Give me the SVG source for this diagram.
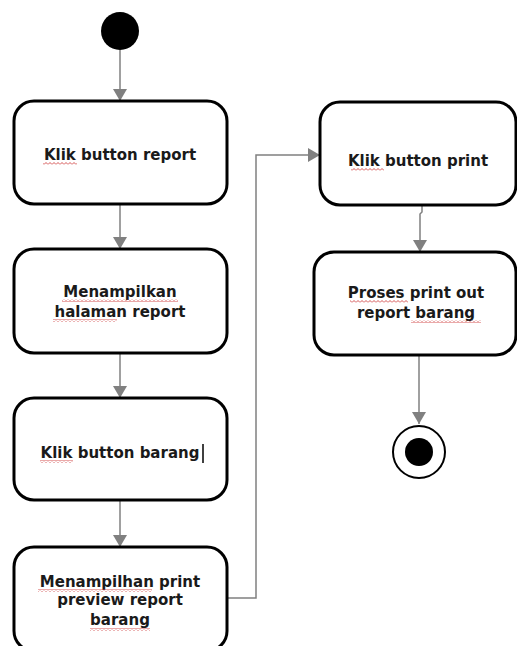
<svg xmlns="http://www.w3.org/2000/svg" width="517" height="646" viewBox="0 0 517 646">
<style>
.box{fill:#fff;stroke:#000;stroke-width:3}
.lbl{font-family:"DejaVu Sans","Verdana",sans-serif;font-weight:bold;font-size:15px;fill:#1a1a1a;text-anchor:middle}
.con{fill:none;stroke:#808080;stroke-width:1.5}
.sq{fill:url(#squig)}
</style>
<defs>
<marker id="arr" viewBox="0 0 12 14" refX="12" refY="7" markerWidth="12" markerHeight="14" markerUnits="userSpaceOnUse" orient="auto">
<path d="M0,0 L12,7 L0,14 Z" fill="#808080"/>
</marker>
<pattern id="squig" width="4" height="3" patternUnits="userSpaceOnUse">
<path d="M0,2.5 L2,0.5 L4,2.5" fill="none" stroke="#d04040" stroke-width="0.9"/>
</pattern>
</defs>
<rect width="517" height="646" fill="#fff"/>
<g id="connectors">
<line class="con" x1="120" y1="50" x2="120" y2="101" marker-end="url(#arr)"/>
<line class="con" x1="120" y1="205" x2="120" y2="249" marker-end="url(#arr)"/>
<line class="con" x1="120" y1="353" x2="120" y2="398" marker-end="url(#arr)"/>
<line class="con" x1="120" y1="501" x2="120" y2="547" marker-end="url(#arr)"/>
<polyline class="con" points="228,598 256,598 256,155 320,155" marker-end="url(#arr)"/>
<polyline class="con" points="422,206 422,212 420,214 420,252" marker-end="url(#arr)"/>
<line class="con" x1="419" y1="355" x2="419" y2="424" marker-end="url(#arr)"/>
</g>
<g id="start">
<circle cx="120" cy="31" r="19" fill="#000"/>
</g>
<g id="n1">
<rect class="box" x="14" y="101" width="213" height="103" rx="20"/>
<text class="lbl" x="120" y="160">Klik button report</text>
<rect class="sq" x="43" y="162" width="34" height="3"/>
</g>
<g id="n2">
<rect class="box" x="14" y="249" width="213" height="104" rx="20"/>
<text class="lbl" x="120" y="297">Menampilkan</text>
<text class="lbl" x="120" y="317">halaman report</text>
<rect class="sq" x="62" y="299" width="116" height="3"/>
<rect class="sq" x="53" y="319" width="64" height="3"/>
</g>
<g id="n3">
<rect class="box" x="14" y="398" width="213" height="102" rx="20"/>
<text class="lbl" x="120" y="458">Klik button barang</text>
<rect class="sq" x="40" y="460" width="33" height="3"/>
<line x1="203" y1="444" x2="203" y2="463" stroke="#000" stroke-width="1.5"/>
</g>
<g id="n4">
<rect class="box" x="14" y="547" width="213" height="104" rx="20"/>
<text class="lbl" x="120" y="587">Menampilhan print</text>
<text class="lbl" x="120" y="605">preview report</text>
<text class="lbl" x="120" y="625">barang</text>
<rect class="sq" x="38" y="589" width="114" height="3"/>
<rect class="sq" x="90" y="628" width="60" height="3"/>
</g>
<g id="n5">
<rect class="box" x="320" y="102" width="196" height="103" rx="20"/>
<text class="lbl" x="418" y="166">Klik button print</text>
<rect class="sq" x="351" y="168" width="33" height="3"/>
</g>
<g id="n6">
<rect class="box" x="314" y="252" width="202" height="103" rx="20"/>
<text class="lbl" x="416" y="298">Proses print out</text>
<text class="lbl" x="416" y="318">report barang</text>
<rect class="sq" x="350" y="300" width="58" height="3"/>
<rect class="sq" x="411" y="320" width="70" height="3"/>
</g>
<g id="end">
<circle cx="419" cy="452" r="26" fill="#fff" stroke="#000" stroke-width="2"/>
<circle cx="419" cy="452" r="14" fill="#000"/>
</g>
</svg>
